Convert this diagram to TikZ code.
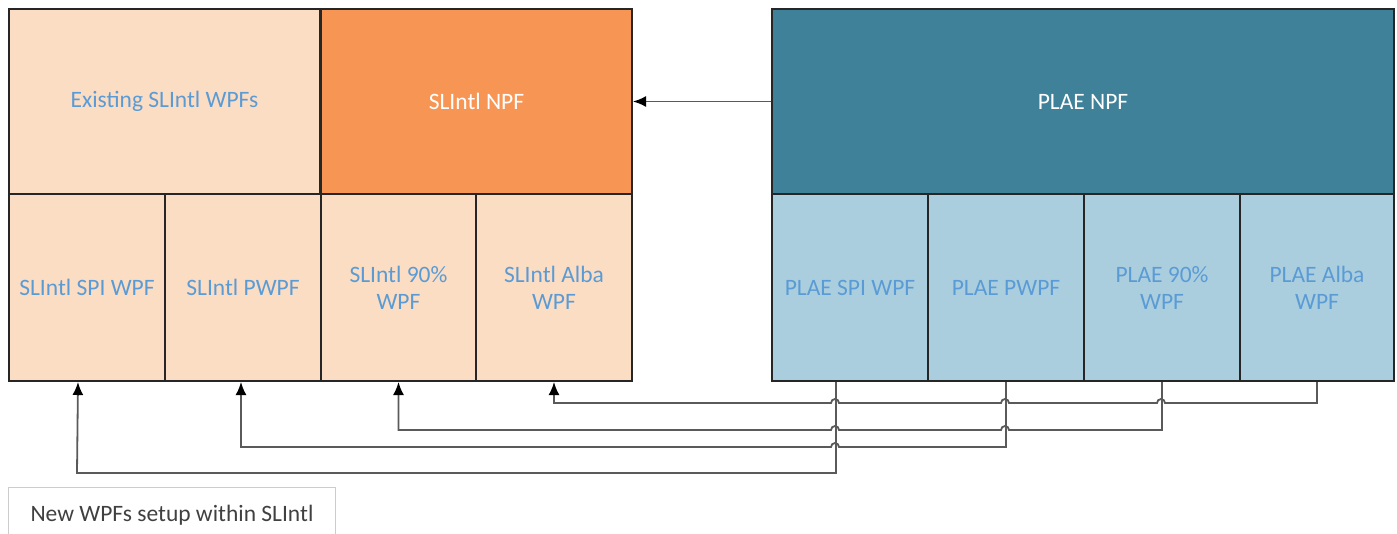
\documentclass[tikz,border=0pt]{standalone}
\usepackage{fontspec}
\setmainfont{Carlito}
\usetikzlibrary{arrows.meta}

\definecolor{peach}{RGB}{251,221,195}
\definecolor{orangenpf}{RGB}{247,150,84}
\definecolor{tealnpf}{RGB}{64,129,154}
\definecolor{lightblue}{RGB}{170,206,222}
\definecolor{labelblue}{RGB}{91,155,213}
\definecolor{linkgray}{RGB}{90,90,90}

\tikzset{
	fundbox/.style={draw=black!85, line width=2pt, rectangle, anchor=north west, align=center, font=\fontsize{23.5}{27}\selectfont},
	wide/.style={minimum width=311pt, minimum height=185pt},
	cell/.style={minimum width=156pt, minimum height=187pt},
	link/.style={draw=linkgray, line width=1.8pt, -{Latex[length=13pt,width=11pt,color=black]}}
}

\begin{document}
\begin{tikzpicture}[x=1pt,y=-1pt]
	\useasboundingbox (0,0) rectangle (1397,533);
	% SLIntl side
	\node[fundbox, wide, fill=peach, text=labelblue] (existwpf) at (8,8) {Existing SLIntl WPFs};
	\node[fundbox, wide, fill=orangenpf, text=white] (slnpf) at (320,8) {SLIntl NPF};
	\node[fundbox, cell, fill=peach, text=labelblue] (slspi) at (8,193) {SLIntl SPI WPF};
	\node[fundbox, cell, fill=peach, text=labelblue] (slpwpf) at (164,193) {SLIntl PWPF};
	\node[fundbox, cell, fill=peach, text=labelblue, minimum width=155pt] (sl90) at (320,193) {SLIntl 90\%\\WPF};
	\node[fundbox, cell, fill=peach, text=labelblue] (slalba) at (475,193) {SLIntl Alba\\WPF};
	% PLAE side
	\node[fundbox, fill=tealnpf, text=white, minimum width=622pt, minimum height=185pt] (plaenpf) at (771,8) {PLAE NPF};
	\node[fundbox, cell, fill=lightblue, text=labelblue] (plaespi) at (771,193) {PLAE SPI WPF};
	\node[fundbox, cell, fill=lightblue, text=labelblue] (plaepwpf) at (927,193) {PLAE PWPF};
	\node[fundbox, cell, fill=lightblue, text=labelblue] (plae90) at (1083,193) {PLAE 90\%\\WPF};
	\node[fundbox, cell, fill=lightblue, text=labelblue, minimum width=154pt] (plaealba) at (1239,193) {PLAE Alba\\WPF};

	\draw[link] (plaenpf.west) -- (slnpf.east);

	\draw[link] (plaealba.south) |- (1165,403) arc[start angle=0,end angle=-180,radius=4]
		-- (1009,403) arc[start angle=0,end angle=-180,radius=4]
		-- (839,403) arc[start angle=0,end angle=-180,radius=4] -| (slalba.south);
	\draw[link] (plae90.south) |- (1009,430) arc[start angle=0,end angle=-180,radius=4]
		-- (839,430) arc[start angle=0,end angle=-180,radius=4] -| (sl90.south);
	\draw[link] (plaepwpf.south) |- (839,447) arc[start angle=0,end angle=-180,radius=4] -| ([xshift=-2pt]slpwpf.south);
	\draw[link] ([xshift=-14pt]plaespi.south) |- (77,473) -- ([xshift=-9pt]slspi.south);

	\node[draw=black!20, line width=1pt, anchor=north west, minimum width=327pt, minimum height=56pt, text=black!75, font=\fontsize{23.5}{27}\selectfont] (note) at (8,487) {New WPFs setup within SLIntl};
\end{tikzpicture}
\end{document}
